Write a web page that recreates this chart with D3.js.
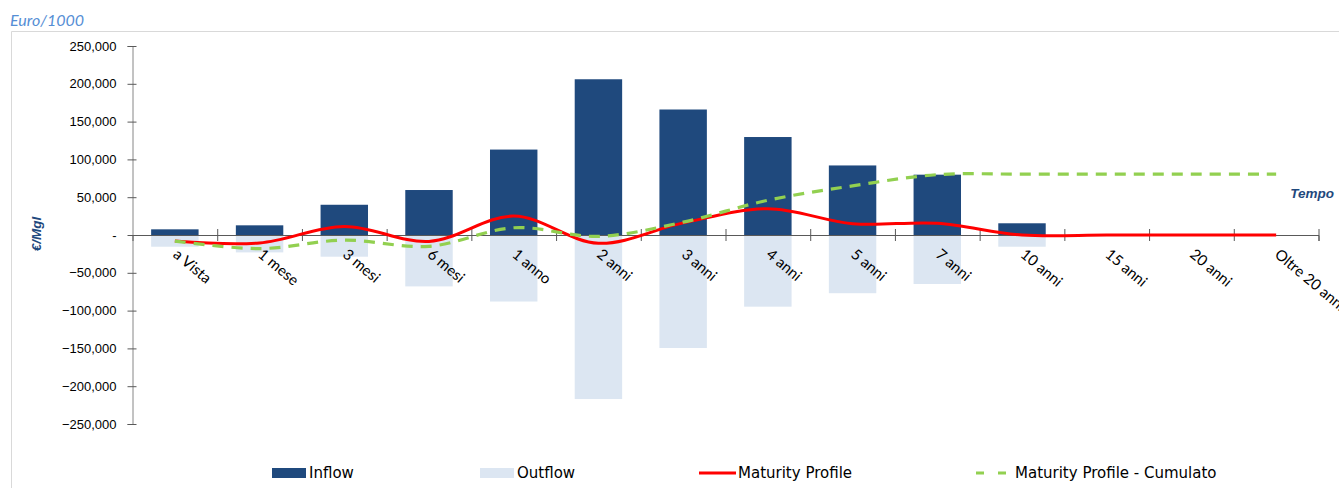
<!DOCTYPE html>
<html>
<head>
<meta charset="utf-8">
<script src="https://cdn.jsdelivr.net/npm/d3@7"></script>
<style>
  body { margin: 0; background: #fff; }
  svg { display: block; }
</style>
</head>
<body>
<div id="chart"></div>
<script>
////////////////////////////////////////////////////////////////////////
// Data (Euro / 1000)

let categories = ["a Vista", "1 mese", "3 mesi", "6 mesi", "1 anno", "2 anni", "3 anni",
  "4 anni", "5 anni", "7 anni", "10 anni", "15 anni", "20 anni", "Oltre 20 anni"];

let inflow   = [7500, 12800, 40000, 59500, 113000, 206000, 166000, 129600, 92000, 79800, 15500, 0, 0, 0];
let outflow  = [-15500, -23000, -28700, -68000, -88000, -217000, -149500, -94800, -77000, -64800, -15500, 0, 0, 0];
let maturity = [-8000, -10500, 11300, -8500, 25000, -11000, 16000, 34800, 15000, 15500, 0, 0, 0, 0];
let cumulato = [-8000, -18000, -6800, -15000, 9600, -1800, 17000, 46000, 65000, 79800, 80500, 80500, 80500, 80500];

let yTicks = [250000, 200000, 150000, 100000, 50000, 0, -50000, -100000, -150000, -200000, -250000];

let legendItems = [
  { name: "Inflow", type: "bar", color: "#1F497D", x: 272 },
  { name: "Outflow", type: "bar", color: "#DCE6F2", x: 480 },
  { name: "Maturity Profile", type: "line", color: "#FF0000", x: 699 },
  { name: "Maturity Profile - Cumulato", type: "dash", color: "#92D050", x: 976 }
];

////////////////////////////////////////////////////////////////////////
// svg and scales

let width = 1339;
let height = 488;

let svg = d3.select("#chart")
  .append("svg")
  .attr("width", width).attr("height", height);

// frame of the chart area
svg.append("path")
  .attr("d", "M11.5," + (height + 2) + "V31.5H" + (width + 2))
  .style("fill", "none")
  .style("stroke", "#D9D9D9");

let x0 = 132.5, x1 = 1318.5;

let xScale = d3.scaleBand()
  .domain(categories)
  .range([x0, x1]);

// index scale for tick marks between the categories
let xIndex = d3.scaleLinear()
  .domain([0, categories.length])
  .range([x0, x1]);

let yScale = d3.scaleLinear()
  .domain([-250000, 250000])
  .range([424, 46]);

let barW = xScale.bandwidth() * 0.56;
function cx(d) { return xScale(d) + xScale.bandwidth() / 2; }

////////////////////////////////////////////////////////////////////////
// bars

svg.append("g")
  .selectAll(".outflow")
  .data(categories)
  .enter()
  .append("rect")
  .attr("class", "outflow")
  .attr("x", function(d) { return cx(d) - barW / 2; })
  .attr("width", barW)
  .attr("y", yScale(0))
  .attr("height", function(d, i) { return yScale(outflow[i]) - yScale(0); })
  .style("fill", "#DCE6F2");

svg.append("g")
  .selectAll(".inflow")
  .data(categories)
  .enter()
  .append("rect")
  .attr("class", "inflow")
  .attr("x", function(d) { return cx(d) - barW / 2; })
  .attr("width", barW)
  .attr("y", function(d, i) { return yScale(inflow[i]); })
  .attr("height", function(d, i) { return yScale(0) - yScale(inflow[i]); })
  .style("fill", "#1F497D");

////////////////////////////////////////////////////////////////////////
// axes

let yAxis = svg.append("g")
  .attr("transform", "translate(" + x0 + ",0)")
  .call(d3.axisLeft(yScale)
    .tickValues(yTicks)
    .tickSizeOuter(0)
    .tickSize(5)
    .tickPadding(11)
    .tickFormat(function(v) { return v === 0 ? "-" : d3.format(",")(v); }));

yAxis.select(".domain").style("stroke", "#868686");
yAxis.selectAll(".tick line").attr("x1", 4).style("stroke", "#595959");
yAxis.selectAll(".tick text")
  .style("font-family", "'Liberation Sans', Arial, sans-serif")
  .style("font-size", "13px")
  .style("fill", "#000");

let xAxis = svg.append("g")
  .attr("transform", "translate(0," + yScale(0) + ")")
  .call(d3.axisBottom(xIndex)
    .tickValues(d3.range(1, categories.length + 1))
    .tickSizeOuter(0)
    .tickSize(6)
    .tickFormat(""));

xAxis.select(".domain").style("stroke", "#595959");
xAxis.selectAll(".tick line").attr("y1", -6).style("stroke", "#595959");

// category labels, rotated (the last one runs off the right edge, as in the original)
svg.append("g")
  .selectAll(".xlabel")
  .data(categories)
  .enter()
  .append("text")
  .attr("class", "xlabel")
  .attr("transform", function(d) { return "translate(" + (cx(d) - 2.5) + ",256) rotate(40)"; })
  .style("font-family", "Lato, sans-serif")
  .style("font-size", "15px")
  .style("fill", "#000")
  .text(function(d) { return d; });

////////////////////////////////////////////////////////////////////////
// lines

let line = d3.line()
  .x(function(d, i) { return cx(categories[i]); })
  .y(function(d) { return yScale(d); })
  .curve(d3.curveCatmullRom.alpha(0.5));

svg.append("path")
  .datum(maturity)
  .attr("d", line)
  .style("fill", "none")
  .style("stroke", "#FF0000")
  .style("stroke-width", 3);

svg.append("path")
  .datum(cumulato)
  .attr("d", line)
  .style("fill", "none")
  .style("stroke", "#92D050")
  .style("stroke-width", 3.2)
  .style("stroke-dasharray", "11,8");

////////////////////////////////////////////////////////////////////////
// titles

svg.append("text")
  .attr("x", 10).attr("y", 26)
  .style("font-family", "Lato, sans-serif")
  .style("font-style", "italic")
  .style("font-size", "16px")
  .style("fill", "#558ED5")
  .text("Euro/1000");

svg.append("text")
  .attr("transform", "translate(41,234) rotate(-90)")
  .style("text-anchor", "middle")
  .style("font-family", "'Liberation Sans', Arial, sans-serif")
  .style("font-style", "italic")
  .style("font-weight", "bold")
  .style("font-size", "13.5px")
  .style("fill", "#1F497D")
  .text("€/Mgl");

svg.append("text")
  .attr("x", 1334).attr("y", 198)
  .style("text-anchor", "end")
  .style("font-family", "'Liberation Sans', Arial, sans-serif")
  .style("font-style", "italic")
  .style("font-weight", "bold")
  .style("font-size", "13.5px")
  .style("fill", "#1F497D")
  .text("Tempo");

////////////////////////////////////////////////////////////////////////
// legend

let legend = svg.append("g")
  .selectAll(".legend")
  .data(legendItems)
  .enter()
  .append("g")
  .attr("class", "legend")
  .attr("transform", function(d) { return "translate(" + d.x + ",473)"; });

legend.filter(function(d) { return d.type === "bar"; })
  .append("rect")
  .attr("x", 0).attr("y", -5)
  .attr("width", 34).attr("height", 10)
  .style("fill", function(d) { return d.color; });

legend.filter(function(d) { return d.type !== "bar"; })
  .append("line")
  .attr("x1", 0).attr("x2", 37)
  .style("stroke", function(d) { return d.color; })
  .style("stroke-width", 3)
  .style("stroke-dasharray", function(d) { return d.type === "dash" ? "8,14" : null; });

legend.append("text")
  .attr("x", function(d) { return d.type === "bar" ? 37 : 39; })
  .attr("y", 5)
  .style("font-family", "'DejaVu Sans', sans-serif")
  .style("font-size", "15px")
  .style("fill", "#000")
  .text(function(d) { return d.name; });
</script>
</body>
</html>
